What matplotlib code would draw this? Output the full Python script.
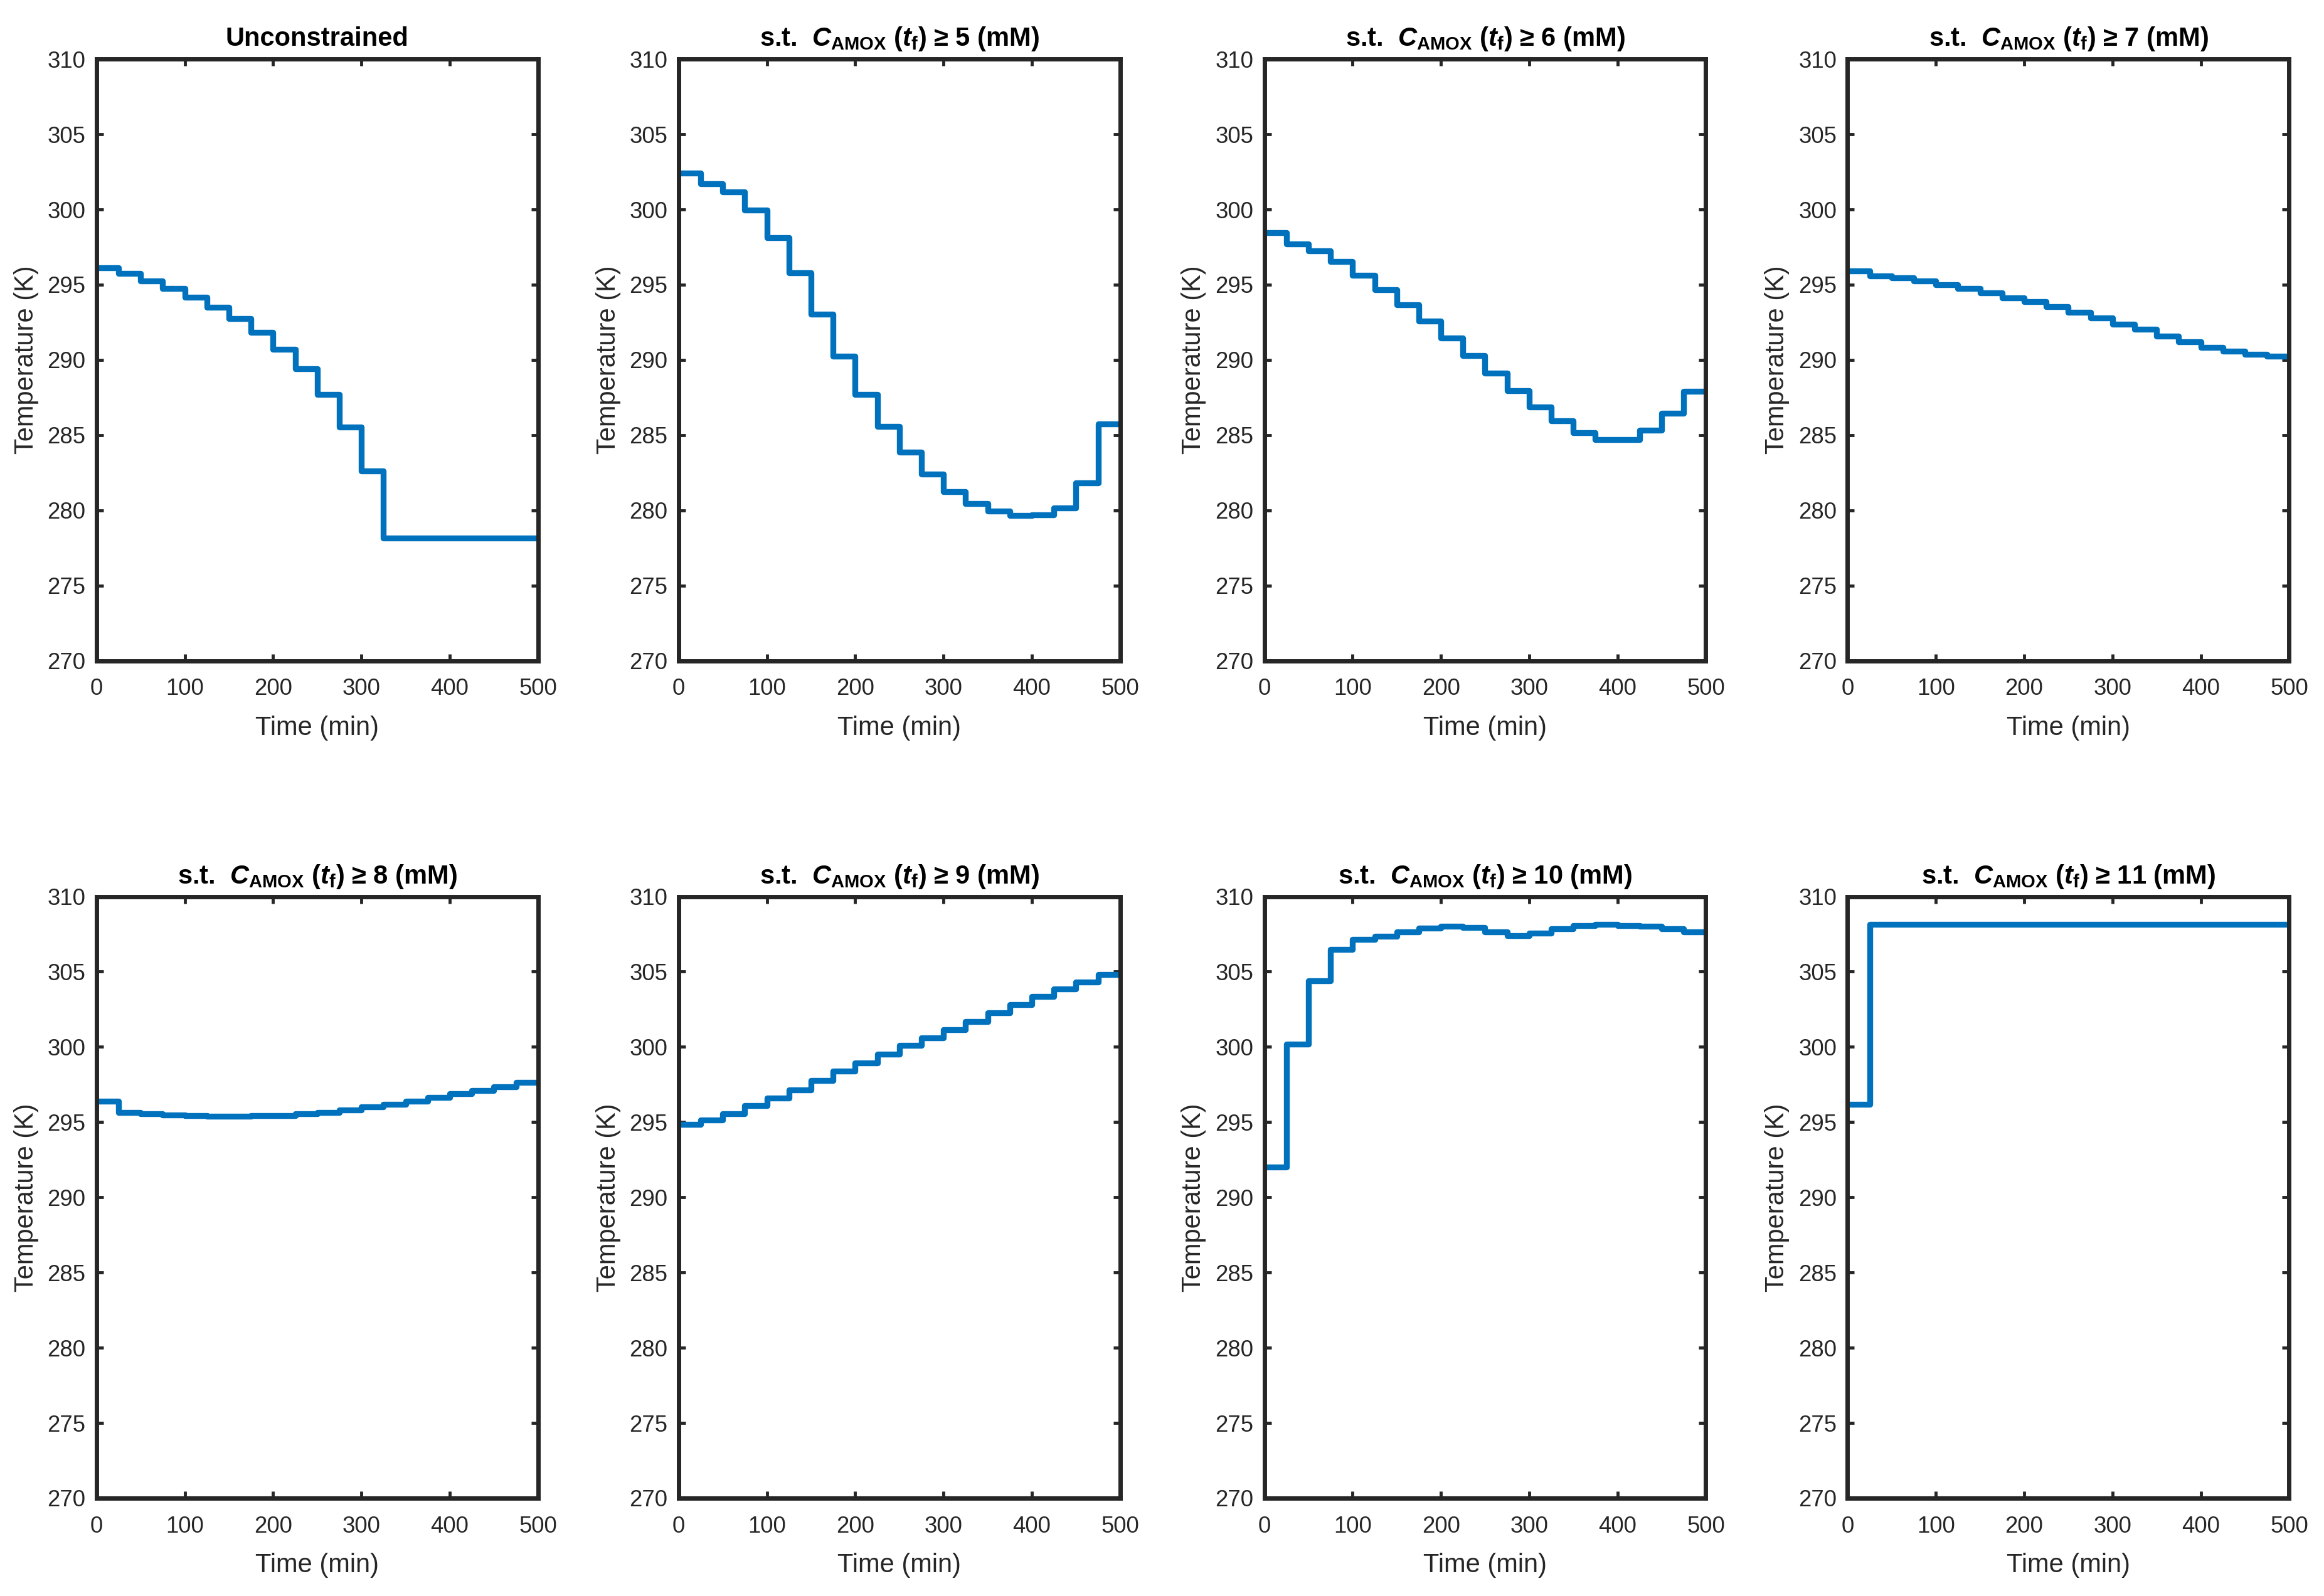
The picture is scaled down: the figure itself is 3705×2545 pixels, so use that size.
import numpy as np
import matplotlib
matplotlib.use("Agg")
import matplotlib.pyplot as plt
from matplotlib import font_manager

# step boundaries (min), 20 control intervals of 25 min
t_edges = [0, 25, 50, 75, 100, 125, 150, 175, 200, 225, 250,
           275, 300, 325, 350, 375, 400, 425, 450, 475, 500]

T_uncon = [296.13, 295.73, 295.23, 294.75, 294.16, 293.50, 292.73, 291.83, 290.72, 289.42,
           287.72, 285.54, 282.60, 278.15, 278.15, 278.15, 278.15, 278.15, 278.15, 278.15]
T_c5 = [302.44, 301.70, 301.17, 299.97, 298.14, 295.78, 293.02, 290.24, 287.72, 285.57,
        283.85, 282.39, 281.25, 280.45, 279.95, 279.66, 279.68, 280.16, 281.83, 285.76]
T_c6 = [298.44, 297.69, 297.27, 296.55, 295.62, 294.67, 293.66, 292.57, 291.46, 290.27,
        289.12, 287.96, 286.87, 285.94, 285.15, 284.72, 284.72, 285.31, 286.47, 287.90]
T_c7 = [295.92, 295.60, 295.44, 295.23, 294.99, 294.75, 294.46, 294.14, 293.87, 293.53,
        293.16, 292.79, 292.39, 292.02, 291.59, 291.22, 290.82, 290.58, 290.37, 290.24]
T_c8 = [296.40, 295.65, 295.57, 295.47, 295.44, 295.39, 295.39, 295.42, 295.44, 295.55,
        295.63, 295.81, 296.00, 296.18, 296.40, 296.63, 296.87, 297.08, 297.35, 297.64]
T_c9 = [294.86, 295.12, 295.57, 296.08, 296.61, 297.16, 297.77, 298.38, 298.94, 299.52,
        300.08, 300.61, 301.14, 301.70, 302.25, 302.81, 303.37, 303.87, 304.32, 304.82]
T_c10 = [292.02, 300.19, 304.40, 306.47, 307.13, 307.37, 307.66, 307.90, 308.03, 307.95,
         307.66, 307.39, 307.58, 307.85, 308.08, 308.14, 308.08, 308.00, 307.85, 307.64]
T_c11 = [296.18, 308.15, 308.15, 308.15, 308.15, 308.15, 308.15, 308.15, 308.15, 308.15,
         308.15, 308.15, 308.15, 308.15, 308.15, 308.15, 308.15, 308.15, 308.15, 308.15]

profiles = [T_uncon, T_c5, T_c6, T_c7, T_c8, T_c9, T_c10, T_c11]
bounds = [None, 5, 6, 7, 8, 9, 10, 11]

xticks = [0, 100, 200, 300, 400, 500]
yticks = [270, 275, 280, 285, 290, 295, 300, 305, 310]

installed = {f.name for f in font_manager.fontManager.ttflist}
fam = "Liberation Sans Narrow" if "Liberation Sans Narrow" in installed else "Liberation Sans"
plt.rcParams['font.family'] = [fam, 'DejaVu Sans']
plt.rcParams['mathtext.fontset'] = 'custom'
plt.rcParams['mathtext.rm'] = fam + ':bold'
plt.rcParams['mathtext.it'] = fam + ':italic:bold'
plt.rcParams['mathtext.bf'] = fam + ':bold'

dark = '#262626'
fig = plt.figure(figsize=(14.82, 10.18), dpi=250)

lefts = [0.0415, 0.292, 0.544, 0.795]
bottoms = [0.586, 0.0613]
w, h = 0.190, 0.377

for k, (T, b) in enumerate(zip(profiles, bounds)):
    ax = fig.add_axes([lefts[k % 4], bottoms[k // 4], w, h])
    ax.plot(t_edges, T + [T[-1]], drawstyle='steps-post', color='#0072BD', linewidth=2.7)
    ax.set_xlim(0, 500)
    ax.set_ylim(270, 310)
    ax.set_xticks(xticks)
    ax.set_yticks(yticks)
    ax.tick_params(direction='in', top=True, right=True, length=3.2, width=1.4,
                   color=dark, labelcolor=dark, labelsize=10.5)
    ax.tick_params(axis='x', pad=8)
    ax.tick_params(axis='y', pad=5)
    for s in ax.spines.values():
        s.set_linewidth(2.0)
        s.set_color(dark)
    ax.set_xlabel('Time (min)', fontsize=12, color=dark, labelpad=7)
    ax.set_ylabel('Temperature (K)', fontsize=12, color=dark, labelpad=4)
    if b is None:
        title = 'Unconstrained'
    else:
        title = r's.t.  $C_{\mathrm{AMOX}}$ ($t_{\mathrm{f}}$) ≥ ' + str(b) + ' (mM)'
    ax.set_title(title, fontsize=12, fontweight='bold', color='black', pad=6)

fig.savefig('out.png', dpi=250)
